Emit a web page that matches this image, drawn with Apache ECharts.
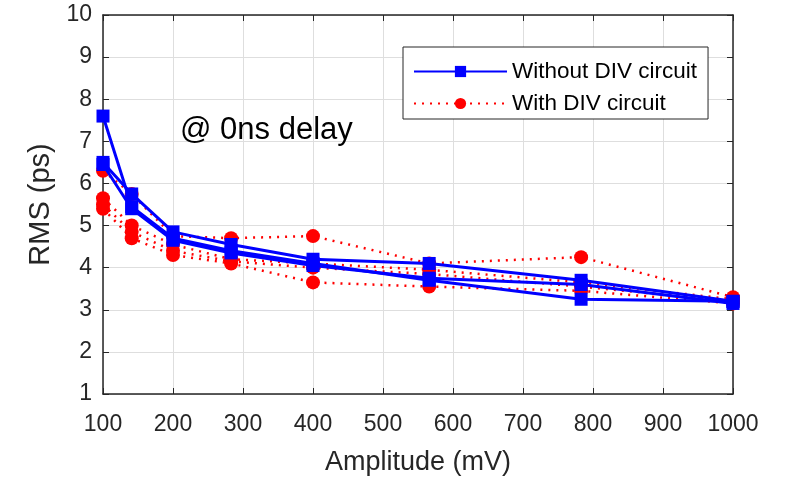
<!DOCTYPE html>
<html>
<head>
<meta charset="utf-8">
<script src="https://cdn.jsdelivr.net/npm/echarts@6/dist/echarts.min.js"></script>
<style>html,body{margin:0;padding:0;background:#fff}#c{width:790px;height:483px}</style>
</head>
<body>
<div id="c"></div>
<script>
var amplitudes = [100, 141, 200, 283, 400, 566, 783, 1000];
var xTicks = [100, 200, 300, 400, 500, 600, 700, 800, 900, 1000];
var yTicks = [1, 2, 3, 4, 5, 6, 7, 8, 9, 10];

var withoutDiv1 = [7.6, 5.45, 4.7, 4.4, 4.1, 3.7, 3.25, 3.2];
var withoutDiv2 = [6.5, 5.75, 4.85, 4.55, 4.2, 4.1, 3.7, 3.2];
var withoutDiv3 = [6.45, 5.4, 4.65, 4.35, 4.05, 3.75, 3.6, 3.15];

var withDiv1 = [6.3, 5.75, 4.75, 4.7, 4.75, 4.1, 4.25, 3.3];
var withDiv2 = [5.65, 5.0, 4.55, 4.2, 4.1, 3.95, 3.65, 3.25];
var withDiv3 = [5.5, 4.85, 4.4, 4.15, 4.0, 3.85, 3.55, 3.2];
var withDiv4 = [5.4, 4.7, 4.3, 4.1, 3.65, 3.55, 3.45, 3.15];

var blueSets = [withoutDiv1, withoutDiv2, withoutDiv3];
var redSets = [withDiv1, withDiv2, withDiv3, withDiv4];

function pairs(vals) { return amplitudes.map(function (a, i) { return [a, vals[i]]; }); }

var FONT = 'Liberation Sans';
var series = [];
redSets.forEach(function (v) {
  series.push({
    name: 'With DIV circuit', type: 'line', data: pairs(v),
    symbol: 'circle', symbolSize: 14,
    itemStyle: { color: '#ff0000' },
    lineStyle: { color: '#ff0000', width: 2.5, type: [2, 6] },
    z: 2
  });
});
blueSets.forEach(function (v) {
  series.push({
    name: 'Without DIV circuit', type: 'line', data: pairs(v),
    symbol: 'rect', symbolSize: 13,
    itemStyle: { color: '#0000ff' },
    lineStyle: { color: '#0000ff', width: 3 },
    z: 3
  });
});

var chart = echarts.init(document.getElementById('c'));
var axisLine = { show: true, lineStyle: { color: '#262626', width: 1.5 } };
chart.setOption({
  animation: false,
  backgroundColor: '#ffffff',
  grid: { left: 103, right: 57, top: 15, bottom: 89, containLabel: false },
  legend: {
    data: ['Without DIV circuit', 'With DIV circuit'],
    orient: 'vertical', left: 403, top: 47,
    backgroundColor: '#ffffff', borderColor: '#262626', borderWidth: 1,
    padding: [13, 11, 4, 10], itemGap: 9, itemWidth: 93, itemHeight: 14,
    textStyle: { fontFamily: FONT, fontSize: 22.5, color: '#000' }
  },
  graphic: [{
    type: 'text', left: 180, top: 115, z: 100,
    style: { text: '@ 0ns delay', font: '31px "Liberation Sans"', fill: '#000' }
  }],
  xAxis: [{
    type: 'value', min: 100, max: 1000, interval: 100,
    name: 'Amplitude (mV)', nameLocation: 'middle', nameGap: 55,
    nameTextStyle: { fontFamily: FONT, fontSize: 27, color: '#262626' },
    axisLine: axisLine,
    axisTick: { show: true, inside: true, length: 6, lineStyle: { color: '#262626' } },
    axisLabel: { fontFamily: FONT, fontSize: 23, color: '#262626', margin: 19,
      formatter: function (v) { return String(v); } },
    splitLine: { show: true, lineStyle: { color: '#dedede', width: 1 } }
  }, {
    type: 'value', position: 'top', min: 100, max: 1000, interval: 100,
    axisLine: axisLine,
    axisTick: { show: true, inside: true, length: 6, lineStyle: { color: '#262626' } },
    axisLabel: { show: false }, splitLine: { show: false }
  }],
  yAxis: [{
    type: 'value', min: 1, max: 10, interval: 1,
    name: 'RMS (ps)', nameLocation: 'middle', nameGap: 48,
    nameTextStyle: { fontFamily: FONT, fontSize: 29, color: '#262626' },
    axisLine: axisLine,
    axisTick: { show: true, inside: true, length: 6, lineStyle: { color: '#262626' } },
    axisLabel: { fontFamily: FONT, fontSize: 23, color: '#262626', margin: 11 },
    splitLine: { show: true, lineStyle: { color: '#dedede', width: 1 } }
  }, {
    type: 'value', position: 'right', min: 1, max: 10, interval: 1,
    axisLine: axisLine,
    axisTick: { show: true, inside: true, length: 6, lineStyle: { color: '#262626' } },
    axisLabel: { show: false }, splitLine: { show: false }
  }],
  series: series
});
</script>
</body>
</html>
